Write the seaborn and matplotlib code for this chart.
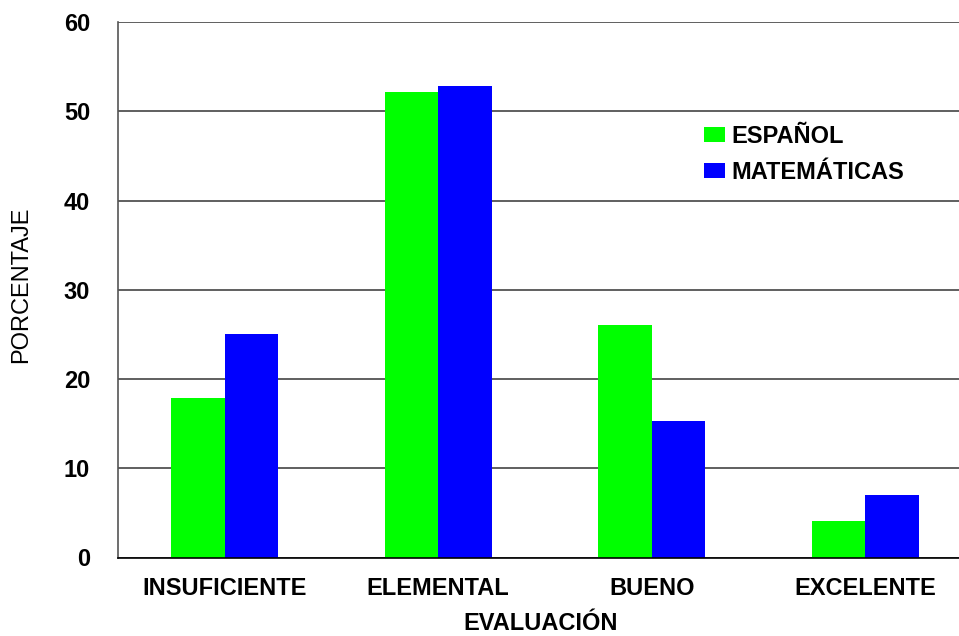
import matplotlib
matplotlib.use("Agg")
import matplotlib.pyplot as plt
import seaborn as sns
import pandas as pd

categories = ["INSUFICIENTE", "ELEMENTAL", "BUENO", "EXCELENTE"]
espanol = [17.9, 52.2, 26.1, 4.1]
matematicas = [25.0, 52.8, 15.3, 7.0]
series_names = ["ESPAÑOL", "MATEMÁTICAS"]
y_ticks = [0, 10, 20, 30, 40, 50, 60]

df = pd.DataFrame({
    "cat": categories * 2,
    "serie": [series_names[0]] * 4 + [series_names[1]] * 4,
    "val": espanol + matematicas,
})

sns.set_theme(style="white")
plt.rcParams["font.family"] = ["Liberation Sans", "DejaVu Sans"]
plt.rcParams["text.color"] = "black"

W, H = 959, 636
fig = plt.figure(figsize=(W / 100, H / 100), dpi=100)
ax = fig.add_axes([118 / W, (H - 557.5) / H, (972 - 118) / W, 535.5 / H])

sns.barplot(data=df, x="cat", y="val", hue="serie", order=categories,
            hue_order=series_names, palette=["#00FF00", "#0000FF"],
            width=0.5, gap=0, linewidth=0, saturation=1, ax=ax, legend=True)

ax.set_xlim(-0.5, 3.5)
ax.set_ylim(0, 60)
ax.set_yticks(y_ticks)
ax.set_axisbelow(True)
ax.yaxis.grid(True, color="#444444", linewidth=1.2)
ax.xaxis.grid(False)

for s in ["top", "right"]:
    ax.spines[s].set_visible(False)
ax.spines["left"].set_color("#555555")
ax.spines["left"].set_linewidth(1.2)
ax.spines["bottom"].set_color("#000000")
ax.spines["bottom"].set_linewidth(1.2)

ax.tick_params(axis="both", length=0, labelsize=17, colors="black")
ax.tick_params(axis="y", pad=20)
ax.tick_params(axis="x", pad=14)
for lab in ax.get_xticklabels() + ax.get_yticklabels():
    lab.set_fontweight("bold")

ax.set_xlabel("EVALUACIÓN", fontsize=17, fontweight="bold", color="black")
ax.set_ylabel("PORCENTAJE", fontsize=17, fontweight="normal", color="black")
ax.xaxis.label.set_va("baseline")
ax.yaxis.label.set_va("center")
ax.xaxis.set_label_coords((541 - 118) / (972 - 118), -(630 - 557.5) / 535.5)
ax.yaxis.set_label_coords(-(118 - 21) / (972 - 118), (557.5 - 285) / 535.5)

handles, labels = ax.get_legend_handles_labels()
leg = ax.legend(handles, labels, loc="upper left",
                bbox_to_anchor=(704 / W, 1 - 125 / H), bbox_transform=fig.transFigure,
                frameon=False, borderpad=0, borderaxespad=0,
                handlelength=0.9, handleheight=0.63, handletextpad=0.25,
                labelspacing=0.55, prop={"size": 17, "weight": "bold"})
for t in leg.get_texts():
    t.set_color("black")

fig.savefig("out.png", dpi=100)
